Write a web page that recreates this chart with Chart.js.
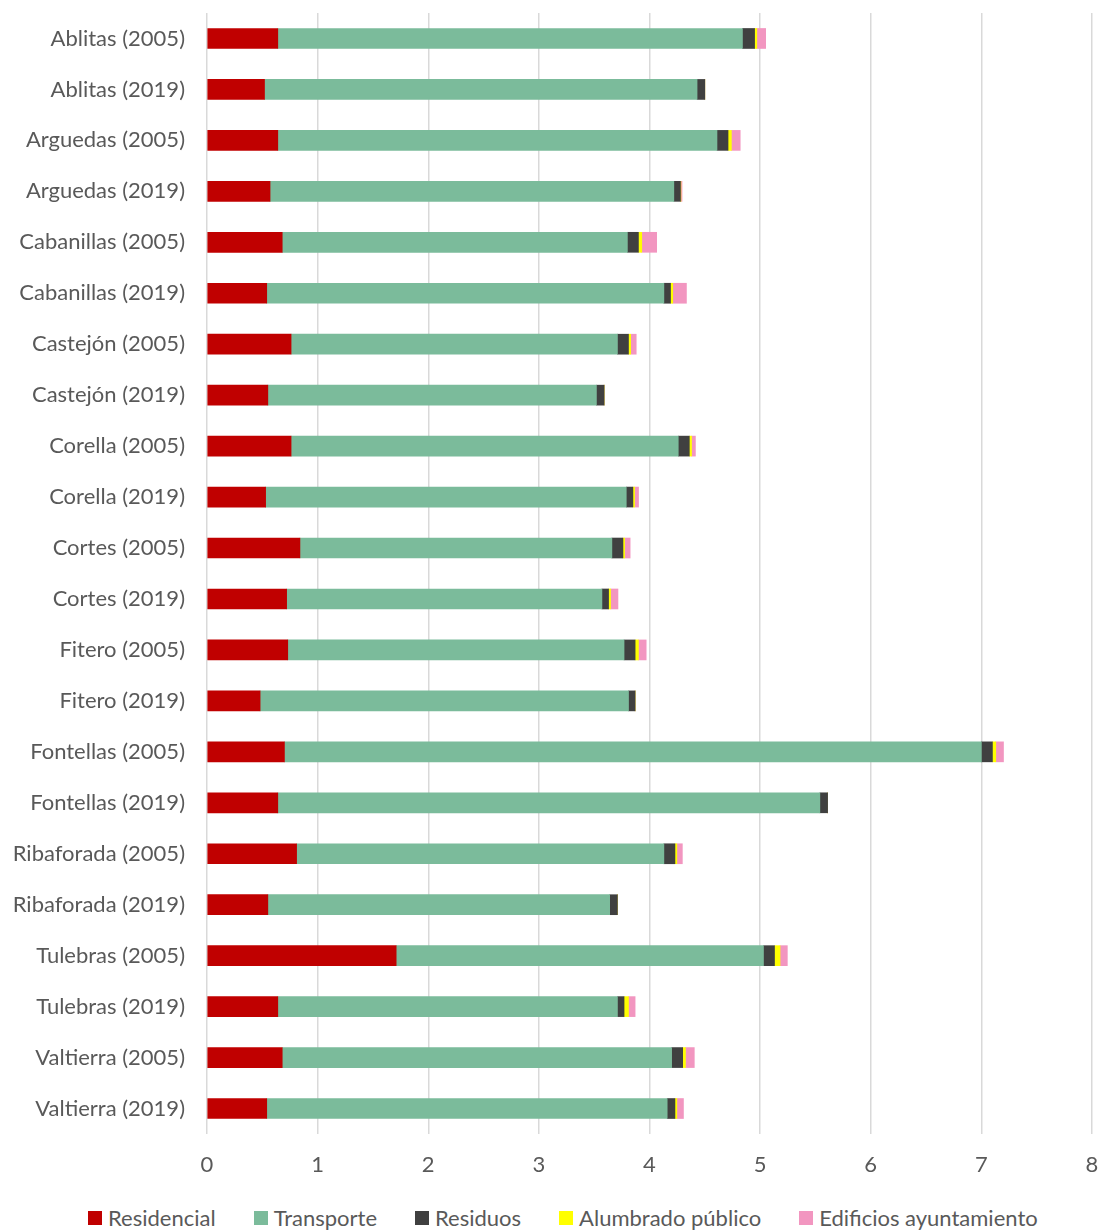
<!DOCTYPE html>
<html>
<head>
<meta charset="utf-8">
<script src="https://cdn.jsdelivr.net/npm/chart.js@4.4.1/dist/chart.umd.min.js"></script>
<style>
  html, body { margin: 0; padding: 0; background: #fff; }
  #wrap { position: relative; width: 1099px; height: 1230px; }
  #lienzo { position: absolute; left: 0; top: 0; width: 1099px; height: 1182px; }
  #leyenda {
    position: absolute; left: 88px; top: 1205px;
    display: flex; gap: 38px;
    font: 22px Lato, "Open Sans", sans-serif; color: #595959; line-height: 26px;
  }
  #leyenda span { display: flex; align-items: center; gap: 6px; white-space: nowrap; }
  #leyenda i { display: inline-block; width: 14px; height: 14px; }
</style>
</head>
<body>
<div id="wrap">
  <div id="lienzo"><canvas id="emisiones"></canvas></div>
  <div id="leyenda"></div>
</div>
<script>
const municipios = [
  "Ablitas (2005)", "Ablitas (2019)", "Arguedas (2005)", "Arguedas (2019)",
  "Cabanillas (2005)", "Cabanillas (2019)", "Castejón (2005)", "Castejón (2019)",
  "Corella (2005)", "Corella (2019)", "Cortes (2005)", "Cortes (2019)",
  "Fitero (2005)", "Fitero (2019)", "Fontellas (2005)", "Fontellas (2019)",
  "Ribaforada (2005)", "Ribaforada (2019)", "Tulebras (2005)", "Tulebras (2019)",
  "Valtierra (2005)", "Valtierra (2019)"
];

const residencial = [0.64, 0.52, 0.64, 0.57, 0.68, 0.54, 0.76, 0.55, 0.76, 0.53, 0.84,
  0.72, 0.73, 0.48, 0.70, 0.64, 0.81, 0.55, 1.71, 0.64, 0.68, 0.54];
const transporte = [4.20, 3.91, 3.97, 3.65, 3.12, 3.59, 2.95, 2.97, 3.50, 3.26, 2.82,
  2.85, 3.04, 3.33, 6.30, 4.90, 3.32, 3.09, 3.32, 3.07, 3.52, 3.62];
const residuos = [0.11, 0.07, 0.10, 0.06, 0.10, 0.06, 0.10, 0.07, 0.10, 0.06, 0.10,
  0.06, 0.10, 0.06, 0.10, 0.07, 0.10, 0.07, 0.10, 0.06, 0.10, 0.07];
const alumbrado = [0.02, 0, 0.03, 0.004, 0.03, 0.02, 0.02, 0, 0.02, 0.015, 0.015,
  0.018, 0.03, 0, 0.03, 0, 0.017, 0, 0.05, 0.04, 0.025, 0.017];
const edificios = [0.08, 0, 0.08, 0.01, 0.135, 0.124, 0.05, 0, 0.035, 0.036, 0.05,
  0.067, 0.07, 0, 0.07, 0, 0.05, 0, 0.066, 0.06, 0.08, 0.06];

const ejeX = [0, 1, 2, 3, 4, 5, 6, 7, 8];

const gris = "#595959";
const fuente = "Lato, 'Open Sans', sans-serif";

const serie = (label, data, color) => ({
  label,
  data,
  backgroundColor: color,
  borderWidth: 0,
  barThickness: 20,
});

const grafico = new Chart(document.getElementById("emisiones"), {
  type: "bar",
  data: {
    labels: municipios,
    datasets: [
      serie("Residencial", residencial, "#C00000"),
      serie("Transporte", transporte, "#7BBB9B"),
      serie("Residuos", residuos, "#404040"),
      serie("Alumbrado público", alumbrado, "#FFFF00"),
      serie("Edificios ayuntamiento", edificios, "#F296C0"),
    ],
  },
  options: {
    indexAxis: "y",
    responsive: true,
    maintainAspectRatio: false,
    animation: false,
    layout: { padding: { top: 13, right: 7, left: 0, bottom: 4 } },
    plugins: {
      legend: { display: false },
      tooltip: { enabled: false },
    },
    scales: {
      x: {
        stacked: true,
        min: ejeX[0],
        max: ejeX[ejeX.length - 1],
        afterBuildTicks: (s) => { s.ticks = ejeX.map((v) => ({ value: v })); },
        afterFit: (s) => { s.paddingLeft = 0; s.paddingRight = 0; s.height = 44; },
        ticks: { color: gris, font: { family: fuente, size: 22 }, padding: 18 },
        grid: { color: "#D9D9D9", lineWidth: 1.5, drawTicks: false },
        border: { display: false },
      },
      y: {
        stacked: true,
        afterFit: (s) => { s.width = 207; s.paddingTop = 0; s.paddingBottom = 0; },
        ticks: { color: gris, font: { family: fuente, size: 22 }, padding: 22 },
        grid: { display: false, drawTicks: false },
        border: { display: false },
      },
    },
  },
});

// leyenda en HTML, a partir de las series del gráfico
const leyenda = document.getElementById("leyenda");
grafico.data.datasets.forEach((ds) => {
  const item = document.createElement("span");
  const caja = document.createElement("i");
  caja.style.background = ds.backgroundColor;
  item.appendChild(caja);
  item.appendChild(document.createTextNode(ds.label));
  leyenda.appendChild(item);
});
</script>
</body>
</html>
